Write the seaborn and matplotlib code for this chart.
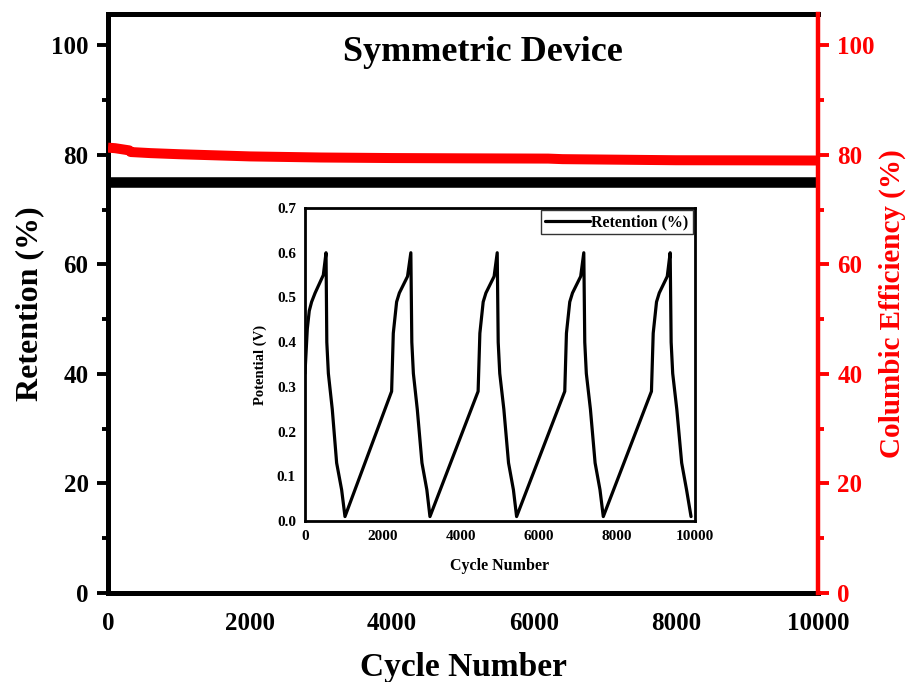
import matplotlib
matplotlib.use("Agg")
import matplotlib.pyplot as plt
import pandas as pd
import seaborn as sns
from matplotlib.ticker import MultipleLocator, FormatStrFormatter

# ---- main panel: long-term cycling ----
cycles_ret = [0, 1000, 2000, 3000, 4000, 5000, 6000, 7000, 8000, 9000, 10000]
retention = [75.0, 75.0, 75.0, 75.0, 75.0, 75.0, 75.0, 75.0, 75.0, 75.0, 75.0]

cycles_ce = [0, 100, 250, 300, 320, 600, 1000, 1500, 2000, 3000, 4000,
             5000, 6200, 6400, 7200, 8000, 9000, 10000]
efficiency = [81.3, 81.2, 80.9, 80.8, 80.5, 80.3, 80.1, 79.9, 79.7, 79.5, 79.4,
              79.35, 79.3, 79.2, 79.1, 79.0, 78.98, 78.95]

# ---- inset: galvanostatic charge/discharge profile ----
inset_cycles = [0, 60, 110, 170, 260, 470, 540, 560, 600, 700, 812, 940, 1026,
                2222, 2265, 2350, 2420, 2630, 2715, 2740, 2780, 2880, 3000, 3125, 3205,
                4440, 4485, 4570, 4640, 4850, 4930, 4955, 4995, 5100, 5220, 5345, 5427,
                6662, 6705, 6790, 6860, 7070, 7150, 7175, 7215, 7320, 7440, 7565, 7650,
                8885, 8930, 9015, 9085, 9290, 9365, 9390, 9430, 9535, 9660, 9785, 9900]
inset_potential = [0.33, 0.43, 0.47, 0.49, 0.51, 0.55, 0.60, 0.40, 0.33, 0.25, 0.13, 0.07, 0.01,
                   0.29, 0.42, 0.49, 0.51, 0.547, 0.60, 0.40, 0.33, 0.25, 0.13, 0.07, 0.01,
                   0.29, 0.42, 0.49, 0.51, 0.547, 0.60, 0.40, 0.33, 0.25, 0.13, 0.07, 0.01,
                   0.29, 0.42, 0.49, 0.51, 0.547, 0.60, 0.40, 0.33, 0.25, 0.13, 0.07, 0.01,
                   0.29, 0.42, 0.49, 0.51, 0.547, 0.60, 0.40, 0.33, 0.25, 0.13, 0.07, 0.01]

x_ticks = [0, 2000, 4000, 6000, 8000, 10000]
y_ticks = [0, 20, 40, 60, 80, 100]

sns.set_style("white")
plt.rcParams["font.family"] = ["Liberation Serif", "DejaVu Serif"]
plt.rcParams["font.weight"] = "bold"
plt.rcParams["axes.labelweight"] = "bold"
plt.rcParams["text.color"] = "black"
plt.rcParams["axes.labelcolor"] = "black"
plt.rcParams["xtick.color"] = "black"
plt.rcParams["ytick.color"] = "black"

RED = "#ff0000"

fig = plt.figure(figsize=(9.09, 6.82), dpi=100)
ax = fig.add_axes([0.1188, 0.1305, 0.7811, 0.8490])
ax2 = ax.twinx()
ax2.set_position(ax.get_position())

df_ret = pd.DataFrame({"Cycle": cycles_ret, "Retention": retention})
df_ce = pd.DataFrame({"Cycle": cycles_ce, "CE": efficiency})

sns.lineplot(data=df_ret, x="Cycle", y="Retention", ax=ax, color="black",
             linewidth=7.6, solid_capstyle="butt", legend=False)
sns.lineplot(data=df_ce, x="Cycle", y="CE", ax=ax2, color=RED,
             linewidth=7.2, solid_capstyle="butt", legend=False)

for a in (ax, ax2):
    a.set_xlim(0, 10000)
    a.set_ylim(0, 105.7)

ax.set_xticks(x_ticks)
ax.xaxis.set_minor_locator(MultipleLocator(1000))
ax.set_yticks(y_ticks)
ax.yaxis.set_minor_locator(MultipleLocator(10))
ax2.set_yticks(y_ticks)
ax2.yaxis.set_minor_locator(MultipleLocator(10))

ax.tick_params(axis="both", which="major", direction="out", length=8, width=2.8,
               labelsize=18, color="black", labelcolor="black", pad=6)
ax.tick_params(axis="both", which="minor", direction="out", length=4.5, width=2.8,
               color="black")
ax2.tick_params(axis="y", which="major", direction="out", length=8, width=2.8,
                labelsize=18, color=RED, labelcolor=RED, pad=6)
ax2.tick_params(axis="y", which="minor", direction="out", length=4.5, width=2.8,
                color=RED)

for lbl in ax.get_xticklabels() + ax.get_yticklabels() + ax2.get_yticklabels():
    lbl.set_fontweight("bold")

for s in ("left", "bottom", "top"):
    ax.spines[s].set_linewidth(3.6)
    ax.spines[s].set_color("black")
ax.spines["right"].set_visible(False)
for s in ("left", "bottom", "top"):
    ax2.spines[s].set_visible(False)
ax2.spines["right"].set_linewidth(3.2)
ax2.spines["right"].set_color(RED)

ax.set_xlabel("Cycle Number", fontsize=24, fontweight="bold", color="black", labelpad=12)
ax.set_ylabel("Retention (%)", fontsize=23, fontweight="bold", color="black", labelpad=5)
ax2.set_ylabel("Columbic Efficiency (%)", fontsize=21, fontweight="bold",
               color=RED, labelpad=3)

ax.text(5280, 98.7, "Symmetric Device", fontsize=26, fontweight="bold",
        color="black", ha="center", va="center")

# ---- inset ----
axin = fig.add_axes([0.3355, 0.236, 0.4290, 0.4590])
axin.set_facecolor("white")
df_in = pd.DataFrame({"Cycle": inset_cycles, "Potential": inset_potential})
sns.lineplot(data=df_in, x="Cycle", y="Potential", ax=axin, color="black",
             linewidth=2.3, sort=False, estimator=None, label="Retention (%)")
axin.set_xlim(0, 10000)
axin.set_ylim(0, 0.7)
axin.set_xticks(x_ticks)
axin.xaxis.set_minor_locator(MultipleLocator(1000))
axin.yaxis.set_major_locator(MultipleLocator(0.1))
axin.yaxis.set_minor_locator(MultipleLocator(0.05))
axin.yaxis.set_major_formatter(FormatStrFormatter("%.1f"))
axin.tick_params(axis="both", which="major", direction="out", length=3.5, width=1.6,
                 labelsize=11, pad=3, color="black", labelcolor="black")
axin.tick_params(axis="both", which="minor", direction="out", length=2, width=1.6,
                 color="black")
for lbl in axin.get_xticklabels() + axin.get_yticklabels():
    lbl.set_fontweight("bold")
for s in axin.spines.values():
    s.set_linewidth(2.0)
    s.set_color("black")
axin.set_xlabel("Cycle Number", fontsize=11.5, fontweight="bold", color="black", labelpad=11)
axin.set_ylabel("Potential (V)", fontsize=10.5, fontweight="bold", color="black", labelpad=7)
leg = axin.legend(loc="upper right", frameon=True, fancybox=False,
                  borderaxespad=0.15, borderpad=0.25, handlelength=2.8,
                  handletextpad=0.1, prop={"weight": "bold", "size": 11.5})
leg.get_frame().set_edgecolor("black")
leg.get_frame().set_linewidth(1.0)
for t in leg.get_texts():
    t.set_color("black")

fig.savefig("out.png", dpi=100, facecolor="white")
